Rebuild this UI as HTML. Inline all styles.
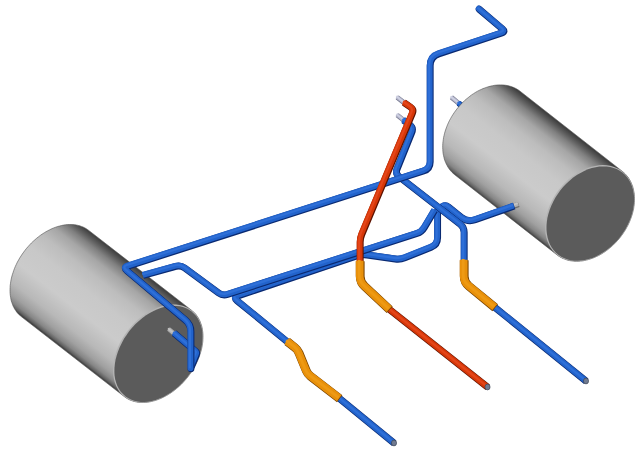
<!DOCTYPE html><html><head><meta charset="utf-8"><title>Piping</title><style>html,body{margin:0;padding:0;background:#fff;overflow:hidden}svg{display:block}</style></head><body>
<svg width="643" height="456" viewBox="0 0 643 456">
<rect width="643" height="456" fill="#ffffff"/>
<path d="M451.30 97.20 L459.00 103.50" fill="none" stroke="#70728a" stroke-width="4.80" stroke-linejoin="round" stroke-linecap="butt" transform="translate(0.2,0.25)"/>
<path d="M451.30 97.20 L459.00 103.50" fill="none" stroke="#b6b8cc" stroke-width="3.70" stroke-linejoin="round" stroke-linecap="butt" transform="translate(-0.3,-0.35)"/>
<path d="M451.30 97.20 L459.00 103.50" fill="none" stroke="#d0d2e4" stroke-width="1.54" stroke-linejoin="round" stroke-linecap="butt" transform="translate(-0.8,-0.9)"/>

<path d="M458.40 103.00 L466.00 109.00" fill="none" stroke="#0a2a72" stroke-width="6.00" stroke-linejoin="round" stroke-linecap="butt" transform="translate(0.2,0.25)"/>
<path d="M458.40 103.00 L466.00 109.00" fill="none" stroke="#2263cb" stroke-width="4.90" stroke-linejoin="round" stroke-linecap="butt" transform="translate(-0.3,-0.35)"/>
<path d="M458.40 103.00 L466.00 109.00" fill="none" stroke="#2f70d8" stroke-width="1.92" stroke-linejoin="round" stroke-linecap="butt" transform="translate(-0.8,-0.9)"/>

<defs><linearGradient id="gL" gradientUnits="userSpaceOnUse" x1="124.3" y1="396.6" x2="191.7" y2="310.4"><stop offset="0" stop-color="#3a3a3a"/><stop offset="0.02" stop-color="#626262"/><stop offset="0.05" stop-color="#868686"/><stop offset="0.1" stop-color="#a0a0a0"/><stop offset="0.19" stop-color="#b8b8b8"/><stop offset="0.36" stop-color="#cbcbcb"/><stop offset="0.55" stop-color="#c8c8c8"/><stop offset="0.7" stop-color="#bdbdbd"/><stop offset="0.82" stop-color="#a6a6a6"/><stop offset="0.9" stop-color="#808080"/><stop offset="0.95" stop-color="#5c5c5c"/><stop offset="1" stop-color="#3a3a3a"/></linearGradient></defs>
<polygon points="88.7,230.4 87.3,229.4 85.9,228.5 84.5,227.7 83.0,227.0 81.4,226.4 79.8,225.8 78.1,225.4 76.4,225.0 74.7,224.7 72.9,224.6 71.1,224.5 69.2,224.5 67.4,224.6 65.5,224.8 63.5,225.1 61.6,225.5 59.7,226.0 57.7,226.5 55.7,227.2 53.8,227.9 51.8,228.7 49.9,229.7 47.9,230.7 46.0,231.7 44.1,232.9 42.2,234.1 40.3,235.4 38.5,236.8 36.6,238.3 34.9,239.8 33.1,241.4 31.4,243.0 29.8,244.7 28.2,246.5 26.6,248.3 25.1,250.2 23.7,252.1 22.3,254.0 21.0,256.0 19.7,258.0 18.6,260.0 17.4,262.1 16.4,264.2 15.4,266.3 14.5,268.4 13.7,270.6 13.0,272.7 12.3,274.8 11.7,277.0 11.2,279.1 10.8,281.2 10.5,283.3 10.2,285.4 10.1,287.5 10.0,289.5 10.0,291.5 10.1,293.5 10.3,295.4 10.6,297.3 10.9,299.2 11.3,301.0 11.9,302.7 12.5,304.4 13.1,306.0 13.9,307.6 14.7,309.1 15.7,310.5 16.6,311.9 17.7,313.2 18.8,314.4 20.1,315.5 21.3,316.6 124.3,396.6 125.7,397.6 127.1,398.5 128.5,399.3 130.0,400.0 131.6,400.6 133.2,401.2 134.9,401.6 136.6,402.0 138.3,402.3 140.1,402.4 141.9,402.5 143.8,402.5 145.6,402.4 147.5,402.2 149.5,401.9 151.4,401.5 153.3,401.0 155.3,400.5 157.3,399.8 159.2,399.1 161.2,398.3 163.1,397.3 165.1,396.3 167.0,395.3 168.9,394.1 170.8,392.9 172.7,391.6 174.5,390.2 176.4,388.7 178.1,387.2 179.9,385.6 181.6,384.0 183.2,382.3 184.8,380.5 186.4,378.7 187.9,376.8 189.3,374.9 190.7,373.0 192.0,371.0 193.3,369.0 194.4,367.0 195.6,364.9 196.6,362.8 197.6,360.7 198.5,358.6 199.3,356.4 200.0,354.3 200.7,352.2 201.3,350.0 201.8,347.9 202.2,345.8 202.5,343.7 202.8,341.6 202.9,339.5 203.0,337.5 203.0,335.5 202.9,333.5 202.7,331.6 202.4,329.7 202.1,327.8 201.7,326.0 201.1,324.3 200.5,322.6 199.9,321.0 199.1,319.4 198.3,317.9 197.3,316.5 196.4,315.1 195.3,313.8 194.2,312.6 192.9,311.5 191.7,310.4" fill="url(#gL)" stroke="#505050" stroke-width="0.6" stroke-linejoin="round"/>
<polygon points="191.7,310.4 194.2,312.6 196.4,315.1 198.3,317.9 199.9,321.0 201.1,324.3 202.1,327.8 202.7,331.6 203.0,335.5 202.9,339.5 202.5,343.7 201.8,347.9 200.7,352.2 199.3,356.4 197.6,360.7 195.6,364.9 193.3,369.0 190.7,373.0 187.9,376.8 184.8,380.5 181.6,384.0 178.1,387.2 174.5,390.2 170.8,392.9 167.0,395.3 163.1,397.3 159.2,399.1 155.3,400.5 151.4,401.5 147.5,402.2 143.8,402.5 140.1,402.4 136.6,402.0 133.2,401.2 130.0,400.0 127.1,398.5 124.3,396.6 121.8,394.4 119.6,391.9 117.7,389.1 116.1,386.0 114.9,382.7 113.9,379.2 113.3,375.4 113.0,371.5 113.1,367.5 113.5,363.3 114.2,359.1 115.3,354.8 116.7,350.6 118.4,346.3 120.4,342.1 122.7,338.0 125.3,334.0 128.1,330.2 131.2,326.5 134.4,323.0 137.9,319.8 141.5,316.8 145.2,314.1 149.0,311.7 152.9,309.7 156.8,307.9 160.7,306.5 164.6,305.5 168.5,304.8 172.2,304.5 175.9,304.6 179.4,305.0 182.8,305.8 186.0,307.0 188.9,308.5 191.7,310.4" fill="#b4b4b4"/>
<polygon points="191.6,311.5 194.0,313.7 196.2,316.1 198.0,318.8 199.6,321.9 200.8,325.1 201.8,328.6 202.4,332.2 202.6,336.1 202.5,340.0 202.1,344.1 201.4,348.2 200.3,352.4 198.9,356.6 197.2,360.8 195.2,364.9 193.0,369.0 190.4,372.9 187.7,376.7 184.7,380.3 181.5,383.7 178.1,386.9 174.6,389.8 170.9,392.5 167.2,394.8 163.4,396.9 159.5,398.6 155.7,400.0 151.9,401.0 148.1,401.7 144.4,402.0 140.8,401.9 137.3,401.5 134.1,400.7 130.9,399.6 128.0,398.1 125.4,396.3 123.0,394.1 120.8,391.7 119.0,389.0 117.4,385.9 116.2,382.7 115.2,379.2 114.6,375.6 114.4,371.7 114.5,367.8 114.9,363.7 115.6,359.6 116.7,355.4 118.1,351.2 119.8,347.0 121.8,342.9 124.0,338.8 126.6,334.9 129.3,331.1 132.3,327.5 135.5,324.1 138.9,320.9 142.4,318.0 146.1,315.3 149.8,313.0 153.6,310.9 157.5,309.2 161.3,307.8 165.1,306.8 168.9,306.1 172.6,305.8 176.2,305.9 179.7,306.3 182.9,307.1 186.1,308.2 189.0,309.7 191.6,311.5" fill="#5b5b5b"/>

<defs><linearGradient id="gR" gradientUnits="userSpaceOnUse" x1="557.2" y1="255.0" x2="622.4" y2="171.4"><stop offset="0" stop-color="#3a3a3a"/><stop offset="0.02" stop-color="#626262"/><stop offset="0.05" stop-color="#868686"/><stop offset="0.1" stop-color="#a0a0a0"/><stop offset="0.19" stop-color="#b8b8b8"/><stop offset="0.36" stop-color="#cbcbcb"/><stop offset="0.55" stop-color="#c8c8c8"/><stop offset="0.7" stop-color="#bdbdbd"/><stop offset="0.82" stop-color="#a6a6a6"/><stop offset="0.9" stop-color="#808080"/><stop offset="0.95" stop-color="#5c5c5c"/><stop offset="1" stop-color="#3a3a3a"/></linearGradient></defs>
<polygon points="520.0,91.2 518.7,90.2 517.2,89.3 515.8,88.5 514.2,87.7 512.6,87.1 511.0,86.5 509.3,86.0 507.6,85.6 505.8,85.3 504.1,85.1 502.2,84.9 500.4,84.9 498.5,84.9 496.6,85.1 494.7,85.3 492.7,85.7 490.8,86.1 488.9,86.6 486.9,87.2 485.0,87.9 483.0,88.6 481.1,89.5 479.1,90.4 477.2,91.4 475.3,92.5 473.5,93.7 471.6,94.9 469.8,96.3 468.1,97.7 466.3,99.1 464.6,100.6 463.0,102.2 461.3,103.9 459.8,105.6 458.3,107.3 456.8,109.1 455.4,111.0 454.1,112.8 452.8,114.8 451.6,116.7 450.5,118.7 449.4,120.7 448.4,122.8 447.5,124.8 446.7,126.9 445.9,129.0 445.2,131.1 444.6,133.2 444.1,135.3 443.6,137.4 443.3,139.5 443.0,141.5 442.8,143.6 442.7,145.6 442.7,147.7 442.8,149.6 442.9,151.6 443.1,153.5 443.5,155.4 443.9,157.2 444.3,159.0 444.9,160.8 445.6,162.4 446.3,164.1 447.1,165.6 448.0,167.2 448.9,168.6 450.0,170.0 451.1,171.3 452.2,172.5 453.5,173.7 454.8,174.8 557.2,255.0 558.5,256.0 560.0,256.9 561.4,257.7 563.0,258.5 564.6,259.1 566.2,259.7 567.9,260.2 569.6,260.6 571.4,260.9 573.1,261.1 575.0,261.3 576.8,261.3 578.7,261.3 580.6,261.1 582.5,260.9 584.5,260.5 586.4,260.1 588.3,259.6 590.3,259.0 592.2,258.3 594.2,257.6 596.1,256.7 598.1,255.8 600.0,254.8 601.9,253.7 603.7,252.5 605.6,251.3 607.4,249.9 609.1,248.5 610.9,247.1 612.6,245.6 614.2,244.0 615.9,242.3 617.4,240.6 618.9,238.9 620.4,237.1 621.8,235.2 623.1,233.4 624.4,231.4 625.6,229.5 626.7,227.5 627.8,225.5 628.8,223.4 629.7,221.4 630.5,219.3 631.3,217.2 632.0,215.1 632.6,213.0 633.1,210.9 633.6,208.8 633.9,206.7 634.2,204.7 634.4,202.6 634.5,200.6 634.5,198.5 634.4,196.6 634.3,194.6 634.1,192.7 633.7,190.8 633.3,189.0 632.9,187.2 632.3,185.4 631.6,183.8 630.9,182.1 630.1,180.6 629.2,179.0 628.3,177.6 627.2,176.2 626.1,174.9 625.0,173.7 623.7,172.5 622.4,171.4" fill="url(#gR)" stroke="#505050" stroke-width="0.6" stroke-linejoin="round"/>
<polygon points="622.4,171.4 625.0,173.7 627.2,176.2 629.2,179.0 630.9,182.1 632.3,185.4 633.3,189.0 634.1,192.7 634.4,196.6 634.5,200.6 634.2,204.7 633.6,208.8 632.6,213.0 631.3,217.2 629.7,221.4 627.8,225.5 625.6,229.5 623.1,233.4 620.4,237.1 617.4,240.6 614.2,244.0 610.9,247.1 607.4,249.9 603.7,252.5 600.0,254.8 596.1,256.7 592.2,258.3 588.3,259.6 584.5,260.5 580.6,261.1 576.8,261.3 573.1,261.1 569.6,260.6 566.2,259.7 563.0,258.5 560.0,256.9 557.2,255.0 554.6,252.7 552.4,250.2 550.4,247.4 548.7,244.3 547.3,241.0 546.3,237.4 545.5,233.7 545.2,229.8 545.1,225.8 545.4,221.7 546.0,217.6 547.0,213.4 548.3,209.2 549.9,205.0 551.8,200.9 554.0,196.9 556.5,193.0 559.2,189.3 562.2,185.8 565.4,182.4 568.7,179.3 572.2,176.5 575.9,173.9 579.6,171.6 583.5,169.7 587.4,168.1 591.3,166.8 595.1,165.9 599.0,165.3 602.8,165.1 606.5,165.3 610.0,165.8 613.4,166.7 616.6,167.9 619.6,169.5 622.4,171.4" fill="#b4b4b4"/>
<polygon points="622.4,172.5 624.9,174.7 627.1,177.2 629.0,180.0 630.7,183.0 632.0,186.3 633.0,189.7 633.7,193.4 634.1,197.1 634.1,201.1 633.8,205.1 633.2,209.2 632.2,213.3 630.9,217.4 629.3,221.5 627.4,225.5 625.3,229.4 622.8,233.3 620.2,236.9 617.3,240.4 614.1,243.7 610.8,246.8 607.4,249.6 603.8,252.1 600.1,254.3 596.4,256.3 592.6,257.9 588.7,259.1 584.9,260.0 581.2,260.6 577.5,260.8 573.9,260.7 570.4,260.2 567.0,259.3 563.9,258.1 560.9,256.5 558.2,254.7 555.7,252.5 553.5,250.0 551.6,247.2 549.9,244.2 548.6,240.9 547.6,237.5 546.9,233.8 546.5,230.1 546.5,226.1 546.8,222.1 547.4,218.0 548.4,213.9 549.7,209.8 551.3,205.7 553.2,201.7 555.3,197.8 557.8,193.9 560.4,190.3 563.3,186.8 566.5,183.5 569.8,180.4 573.2,177.6 576.8,175.1 580.5,172.9 584.2,170.9 588.0,169.3 591.9,168.1 595.7,167.2 599.4,166.6 603.1,166.4 606.7,166.5 610.2,167.0 613.6,167.9 616.7,169.1 619.7,170.7 622.4,172.5" fill="#5b5b5b"/>

<path d="M287.50 341.80 L236.87 300.46 Q233.00 297.30 237.74 295.71 L357.26 255.59 Q362.00 254.00 366.95 254.72 L395.05 258.78 Q400.00 259.50 404.64 257.64 L430.90 247.11 Q437.40 244.50 437.40 237.50 L437.40 209.00" fill="none" stroke="#0a2a72" stroke-width="6.90" stroke-linejoin="round" stroke-linecap="butt" transform="translate(0.2,0.25)"/>
<path d="M287.50 341.80 L236.87 300.46 Q233.00 297.30 237.74 295.71 L357.26 255.59 Q362.00 254.00 366.95 254.72 L395.05 258.78 Q400.00 259.50 404.64 257.64 L430.90 247.11 Q437.40 244.50 437.40 237.50 L437.40 209.00" fill="none" stroke="#2263cb" stroke-width="5.80" stroke-linejoin="round" stroke-linecap="butt" transform="translate(-0.3,-0.35)"/>
<path d="M287.50 341.80 L236.87 300.46 Q233.00 297.30 237.74 295.71 L357.26 255.59 Q362.00 254.00 366.95 254.72 L395.05 258.78 Q400.00 259.50 404.64 257.64 L430.90 247.11 Q437.40 244.50 437.40 237.50 L437.40 209.00" fill="none" stroke="#2f70d8" stroke-width="2.21" stroke-linejoin="round" stroke-linecap="butt" transform="translate(-0.8,-0.9)"/>

<path d="M143.00 275.20 L175.68 266.14 Q180.50 264.80 184.52 267.77 L218.48 292.83 Q222.50 295.80 227.26 294.27 L416.74 233.33 Q421.50 231.80 424.06 227.51 L434.50 210.00" fill="none" stroke="#0a2a72" stroke-width="6.90" stroke-linejoin="round" stroke-linecap="butt" transform="translate(0.2,0.25)"/>
<path d="M143.00 275.20 L175.68 266.14 Q180.50 264.80 184.52 267.77 L218.48 292.83 Q222.50 295.80 227.26 294.27 L416.74 233.33 Q421.50 231.80 424.06 227.51 L434.50 210.00" fill="none" stroke="#2263cb" stroke-width="5.80" stroke-linejoin="round" stroke-linecap="butt" transform="translate(-0.3,-0.35)"/>
<path d="M143.00 275.20 L175.68 266.14 Q180.50 264.80 184.52 267.77 L218.48 292.83 Q222.50 295.80 227.26 294.27 L416.74 233.33 Q421.50 231.80 424.06 227.51 L434.50 210.00" fill="none" stroke="#2f70d8" stroke-width="2.21" stroke-linejoin="round" stroke-linecap="butt" transform="translate(-0.8,-0.9)"/>

<path d="M512.00 206.40 L518.50 204.20" fill="none" stroke="#6a6a6a" stroke-width="5.40" stroke-linejoin="round" stroke-linecap="butt" transform="translate(0.2,0.25)"/>
<path d="M512.00 206.40 L518.50 204.20" fill="none" stroke="#b0b0b0" stroke-width="4.30" stroke-linejoin="round" stroke-linecap="butt" transform="translate(-0.3,-0.35)"/>
<path d="M512.00 206.40 L518.50 204.20" fill="none" stroke="#c4c4c4" stroke-width="1.73" stroke-linejoin="round" stroke-linecap="butt" transform="translate(-0.8,-0.9)"/>

<path d="M439.50 208.20 L442.50 206.40 Q445.50 204.60 448.23 206.79 L461.27 217.29 Q467.50 222.30 475.04 219.62 L514.00 205.80" fill="none" stroke="#0a2a72" stroke-width="6.90" stroke-linejoin="round" stroke-linecap="butt" transform="translate(0.2,0.25)"/>
<path d="M439.50 208.20 L442.50 206.40 Q445.50 204.60 448.23 206.79 L461.27 217.29 Q467.50 222.30 475.04 219.62 L514.00 205.80" fill="none" stroke="#2263cb" stroke-width="5.80" stroke-linejoin="round" stroke-linecap="butt" transform="translate(-0.3,-0.35)"/>
<path d="M439.50 208.20 L442.50 206.40 Q445.50 204.60 448.23 206.79 L461.27 217.29 Q467.50 222.30 475.04 219.62 L514.00 205.80" fill="none" stroke="#2f70d8" stroke-width="2.21" stroke-linejoin="round" stroke-linecap="butt" transform="translate(-0.8,-0.9)"/>

<path d="M397.00 114.90 L404.00 120.40" fill="none" stroke="#70728a" stroke-width="4.80" stroke-linejoin="round" stroke-linecap="butt" transform="translate(0.2,0.25)"/>
<path d="M397.00 114.90 L404.00 120.40" fill="none" stroke="#b6b8cc" stroke-width="3.70" stroke-linejoin="round" stroke-linecap="butt" transform="translate(-0.3,-0.35)"/>
<path d="M397.00 114.90 L404.00 120.40" fill="none" stroke="#d0d2e4" stroke-width="1.54" stroke-linejoin="round" stroke-linecap="butt" transform="translate(-0.8,-0.9)"/>

<path d="M403.30 119.90 L409.49 124.51 Q413.50 127.50 411.63 132.14 L396.87 168.86 Q395.00 173.50 398.95 176.56 L460.05 223.94 Q464.00 227.00 464.00 232.00 L464.00 261.00" fill="none" stroke="#0a2a72" stroke-width="6.90" stroke-linejoin="round" stroke-linecap="butt" transform="translate(0.2,0.25)"/>
<path d="M403.30 119.90 L409.49 124.51 Q413.50 127.50 411.63 132.14 L396.87 168.86 Q395.00 173.50 398.95 176.56 L460.05 223.94 Q464.00 227.00 464.00 232.00 L464.00 261.00" fill="none" stroke="#2263cb" stroke-width="5.80" stroke-linejoin="round" stroke-linecap="butt" transform="translate(-0.3,-0.35)"/>
<path d="M403.30 119.90 L409.49 124.51 Q413.50 127.50 411.63 132.14 L396.87 168.86 Q395.00 173.50 398.95 176.56 L460.05 223.94 Q464.00 227.00 464.00 232.00 L464.00 261.00" fill="none" stroke="#2f70d8" stroke-width="2.21" stroke-linejoin="round" stroke-linecap="butt" transform="translate(-0.8,-0.9)"/>

<path d="M168.80 329.20 L173.60 333.20" fill="none" stroke="#6a6a6a" stroke-width="5.20" stroke-linejoin="round" stroke-linecap="butt" transform="translate(0.2,0.25)"/>
<path d="M168.80 329.20 L173.60 333.20" fill="none" stroke="#b0b0b0" stroke-width="4.10" stroke-linejoin="round" stroke-linecap="butt" transform="translate(-0.3,-0.35)"/>
<path d="M168.80 329.20 L173.60 333.20" fill="none" stroke="#c4c4c4" stroke-width="1.66" stroke-linejoin="round" stroke-linecap="butt" transform="translate(-0.8,-0.9)"/>

<path d="M174.00 333.00 L195.47 351.21 Q197.00 352.50 196.24 354.35 L191.00 367.00" fill="none" stroke="#0a2a72" stroke-width="6.90" stroke-linejoin="round" stroke-linecap="butt" transform="translate(0.2,0.25)"/>
<path d="M174.00 333.00 L195.47 351.21 Q197.00 352.50 196.24 354.35 L191.00 367.00" fill="none" stroke="#2263cb" stroke-width="5.80" stroke-linejoin="round" stroke-linecap="butt" transform="translate(-0.3,-0.35)"/>
<path d="M174.00 333.00 L195.47 351.21 Q197.00 352.50 196.24 354.35 L191.00 367.00" fill="none" stroke="#2f70d8" stroke-width="2.21" stroke-linejoin="round" stroke-linecap="butt" transform="translate(-0.8,-0.9)"/>

<path d="M190.75 368.50 L190.75 331.50 Q190.75 324.50 185.39 319.99 L126.83 270.72 Q123.00 267.50 127.76 265.97 L423.34 170.84 Q430.00 168.70 430.00 161.70 L430.00 65.50 Q430.00 56.50 438.54 53.67 L501.70 32.76 Q505.50 31.50 502.45 28.91 L479.00 9.00" fill="none" stroke="#0a2a72" stroke-width="6.90" stroke-linejoin="round" stroke-linecap="round" transform="translate(0.2,0.25)"/>
<path d="M190.75 368.50 L190.75 331.50 Q190.75 324.50 185.39 319.99 L126.83 270.72 Q123.00 267.50 127.76 265.97 L423.34 170.84 Q430.00 168.70 430.00 161.70 L430.00 65.50 Q430.00 56.50 438.54 53.67 L501.70 32.76 Q505.50 31.50 502.45 28.91 L479.00 9.00" fill="none" stroke="#2263cb" stroke-width="5.80" stroke-linejoin="round" stroke-linecap="round" transform="translate(-0.3,-0.35)"/>
<path d="M190.75 368.50 L190.75 331.50 Q190.75 324.50 185.39 319.99 L126.83 270.72 Q123.00 267.50 127.76 265.97 L423.34 170.84 Q430.00 168.70 430.00 161.70 L430.00 65.50 Q430.00 56.50 438.54 53.67 L501.70 32.76 Q505.50 31.50 502.45 28.91 L479.00 9.00" fill="none" stroke="#2f70d8" stroke-width="2.21" stroke-linejoin="round" stroke-linecap="round" transform="translate(-0.8,-0.9)"/>

<path d="M397.00 97.10 L404.50 103.00" fill="none" stroke="#70728a" stroke-width="4.80" stroke-linejoin="round" stroke-linecap="butt" transform="translate(0.2,0.25)"/>
<path d="M397.00 97.10 L404.50 103.00" fill="none" stroke="#b6b8cc" stroke-width="3.70" stroke-linejoin="round" stroke-linecap="butt" transform="translate(-0.3,-0.35)"/>
<path d="M397.00 97.10 L404.50 103.00" fill="none" stroke="#d0d2e4" stroke-width="1.54" stroke-linejoin="round" stroke-linecap="butt" transform="translate(-0.8,-0.9)"/>

<path d="M403.80 102.40 L410.51 107.03 Q413.80 109.30 412.26 112.99 L361.54 234.31 Q360.00 238.00 360.00 242.00 L360.00 262.00" fill="none" stroke="#5e1200" stroke-width="6.90" stroke-linejoin="round" stroke-linecap="butt" transform="translate(0.2,0.25)"/>
<path d="M403.80 102.40 L410.51 107.03 Q413.80 109.30 412.26 112.99 L361.54 234.31 Q360.00 238.00 360.00 242.00 L360.00 262.00" fill="none" stroke="#d63708" stroke-width="5.80" stroke-linejoin="round" stroke-linecap="butt" transform="translate(-0.3,-0.35)"/>
<path d="M403.80 102.40 L410.51 107.03 Q413.80 109.30 412.26 112.99 L361.54 234.31 Q360.00 238.00 360.00 242.00 L360.00 262.00" fill="none" stroke="#e4461a" stroke-width="2.21" stroke-linejoin="round" stroke-linecap="butt" transform="translate(-0.8,-0.9)"/>

<path d="M389.00 309.00 L487.50 387.00" fill="none" stroke="#5e1200" stroke-width="6.90" stroke-linejoin="round" stroke-linecap="butt" transform="translate(0.2,0.25)"/>
<path d="M389.00 309.00 L487.50 387.00" fill="none" stroke="#d63708" stroke-width="5.80" stroke-linejoin="round" stroke-linecap="butt" transform="translate(-0.3,-0.35)"/>
<path d="M389.00 309.00 L487.50 387.00" fill="none" stroke="#e4461a" stroke-width="2.21" stroke-linejoin="round" stroke-linecap="butt" transform="translate(-0.8,-0.9)"/>

<path d="M494.50 307.00 L586.00 381.00" fill="none" stroke="#0a2a72" stroke-width="6.90" stroke-linejoin="round" stroke-linecap="butt" transform="translate(0.2,0.25)"/>
<path d="M494.50 307.00 L586.00 381.00" fill="none" stroke="#2263cb" stroke-width="5.80" stroke-linejoin="round" stroke-linecap="butt" transform="translate(-0.3,-0.35)"/>
<path d="M494.50 307.00 L586.00 381.00" fill="none" stroke="#2f70d8" stroke-width="2.21" stroke-linejoin="round" stroke-linecap="butt" transform="translate(-0.8,-0.9)"/>

<path d="M339.00 398.00 L394.00 443.00" fill="none" stroke="#0a2a72" stroke-width="6.90" stroke-linejoin="round" stroke-linecap="butt" transform="translate(0.2,0.25)"/>
<path d="M339.00 398.00 L394.00 443.00" fill="none" stroke="#2263cb" stroke-width="5.80" stroke-linejoin="round" stroke-linecap="butt" transform="translate(-0.3,-0.35)"/>
<path d="M339.00 398.00 L394.00 443.00" fill="none" stroke="#2f70d8" stroke-width="2.21" stroke-linejoin="round" stroke-linecap="butt" transform="translate(-0.8,-0.9)"/>

<path d="M360.00 261.00 L360.00 276.00 Q360.00 282.00 364.39 286.09 L389.50 309.50" fill="none" stroke="#7a4400" stroke-width="8.80" stroke-linejoin="round" stroke-linecap="butt" transform="translate(0.2,0.25)"/>
<path d="M360.00 261.00 L360.00 276.00 Q360.00 282.00 364.39 286.09 L389.50 309.50" fill="none" stroke="#e8900a" stroke-width="7.70" stroke-linejoin="round" stroke-linecap="butt" transform="translate(-0.3,-0.35)"/>
<path d="M360.00 261.00 L360.00 276.00 Q360.00 282.00 364.39 286.09 L389.50 309.50" fill="none" stroke="#ee9a14" stroke-width="2.82" stroke-linejoin="round" stroke-linecap="butt" transform="translate(-0.8,-0.9)"/>

<path d="M464.00 260.00 L464.00 276.00 Q464.00 282.00 468.63 285.81 L495.00 307.50" fill="none" stroke="#7a4400" stroke-width="8.80" stroke-linejoin="round" stroke-linecap="butt" transform="translate(0.2,0.25)"/>
<path d="M464.00 260.00 L464.00 276.00 Q464.00 282.00 468.63 285.81 L495.00 307.50" fill="none" stroke="#e8900a" stroke-width="7.70" stroke-linejoin="round" stroke-linecap="butt" transform="translate(-0.3,-0.35)"/>
<path d="M464.00 260.00 L464.00 276.00 Q464.00 282.00 468.63 285.81 L495.00 307.50" fill="none" stroke="#ee9a14" stroke-width="2.82" stroke-linejoin="round" stroke-linecap="butt" transform="translate(-0.8,-0.9)"/>

<path d="M287.00 341.30 L294.74 347.35 Q297.50 349.50 298.83 352.74 L306.17 370.56 Q307.50 373.80 310.27 375.94 L339.50 398.50" fill="none" stroke="#7a4400" stroke-width="8.80" stroke-linejoin="round" stroke-linecap="butt" transform="translate(0.2,0.25)"/>
<path d="M287.00 341.30 L294.74 347.35 Q297.50 349.50 298.83 352.74 L306.17 370.56 Q307.50 373.80 310.27 375.94 L339.50 398.50" fill="none" stroke="#e8900a" stroke-width="7.70" stroke-linejoin="round" stroke-linecap="butt" transform="translate(-0.3,-0.35)"/>
<path d="M287.00 341.30 L294.74 347.35 Q297.50 349.50 298.83 352.74 L306.17 370.56 Q307.50 373.80 310.27 375.94 L339.50 398.50" fill="none" stroke="#ee9a14" stroke-width="2.82" stroke-linejoin="round" stroke-linecap="butt" transform="translate(-0.8,-0.9)"/>

<ellipse cx="586.0" cy="381.0" rx="2.6" ry="2.9" fill="#707a90" stroke="#333a4a" stroke-width="0.6"/>
<ellipse cx="394.0" cy="443.0" rx="2.6" ry="2.9" fill="#707a90" stroke="#333a4a" stroke-width="0.6"/>
<ellipse cx="487.5" cy="387.0" rx="2.6" ry="2.9" fill="#707a90" stroke="#333a4a" stroke-width="0.6"/>
</svg></body></html>
